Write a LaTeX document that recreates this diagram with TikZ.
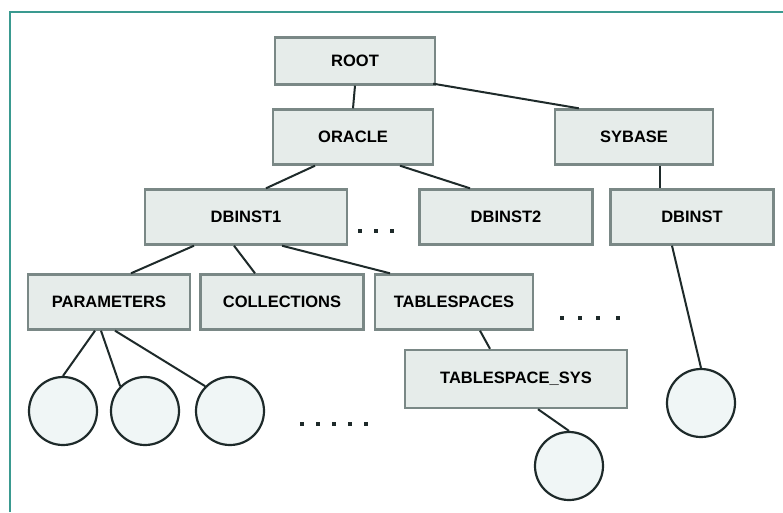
\documentclass[tikz,border=0pt]{standalone}
\usepackage{fontspec}
\setmainfont{Liberation Sans}
\usetikzlibrary{calc}
\definecolor{frame}{HTML}{3A9A90}
\definecolor{boxfill}{HTML}{E6ECEA}
\definecolor{boxline}{HTML}{7A8886}
\definecolor{wire}{HTML}{1E2A2A}
\definecolor{leaf}{HTML}{F0F6F6}
\begin{document}
\begin{tikzpicture}[x=1pt,y=-1pt,
  box/.style={draw=boxline,line width=2.4pt,fill=boxfill,rectangle,inner sep=0pt,
    font=\fontsize{16.5}{18}\selectfont\bfseries},
  leafnode/.style={draw=wire,line width=2.2pt,fill=leaf,circle,minimum size=68pt,inner sep=0pt},
  wireline/.style={draw=wire,line width=2pt},
  dotmark/.style={fill=wire,inner sep=0pt,minimum size=3.5pt,rectangle}]
\useasboundingbox (0,0) rectangle (783,512);
\fill[white] (0,0) rectangle (783,512);
% frame
\draw[frame,line width=1.5pt] (10,512) -- (10,12) -- (783,12);
% boxes
\node[box,minimum width=160pt,minimum height=47pt] (root) at (355,61) {ROOT};
\node[box,minimum width=160pt,minimum height=55pt] (oracle) at (353,137) {ORACLE};
\node[box,minimum width=158pt,minimum height=55pt] (sybase) at (634,137) {SYBASE};
\node[box,minimum width=202pt,minimum height=55pt] (inst1) at (246,217) {DBINST1};
\node[box,minimum width=173pt,minimum height=55pt] (inst2) at (506,217) {DBINST2};
\node[box,minimum width=163pt,minimum height=55pt] (inst3) at (692,217) {DBINST};
\node[box,minimum width=162pt,minimum height=55pt] (params) at (109,302) {PARAMETERS};
\node[box,minimum width=163pt,minimum height=55pt] (colls) at (282,302) {COLLECTIONS};
\node[box,minimum width=158pt,minimum height=55pt] (tbs) at (454,302) {TABLESPACES};
\node[box,minimum width=222pt,minimum height=58pt] (tbx) at (516,379) {TABLESPACE\_SYS};
% leaves
\node[leafnode] (c1) at (63,411) {};
\node[leafnode] (c2) at (145,411) {};
\node[leafnode] (c3) at (230,411) {};
\node[leafnode] (c4) at (701,403) {};
\node[leafnode] (c5) at (569,466) {};
% connectors
\draw[wireline] (root.south) -- (oracle.north);
\draw[wireline] ($(root.south east)+(-3,-2)$) -- ($(sybase.north west)+(25,0)$);
\draw[wireline] ($(oracle.south)+(-38,0)$) -- ($(inst1.north)+(20,0)$);
\draw[wireline] ($(oracle.south)+(47,0)$) -- ($(inst2.north)+(-36,0)$);
\draw[wireline] ($(sybase.south)+(26,0)$) -- ($(inst3.north)+(-32,0)$);
\draw[wireline] ($(inst1.south)+(-52,0)$) -- ($(params.north)+(22,0)$);
\draw[wireline] ($(inst1.south)+(-12,0)$) -- ($(colls.north)+(-27,0)$);
\draw[wireline] ($(inst1.south)+(36,0)$) -- ($(tbs.north)+(-64,0)$);
\draw[wireline] ($(tbs.south)+(26,0)$) -- ($(tbx.north)+(-26,0)$);
\draw[wireline] ($(params.south)+(-14,0)$) -- (c1.north);
\draw[wireline] ($(params.south)+(-8,0)$) -- (c2.north west);
\draw[wireline] ($(params.south)+(6,0)$) -- (c3.north west);
\draw[wireline] ($(inst3.south)+(-20,0)$) -- (c4.north);
\draw[wireline] ($(tbx.south)+(22,0)$) -- (c5.north);
% ellipsis marks
\foreach \x [count=\i] in {360,376,392} \node[dotmark] (da\i) at (\x,231) {};
\foreach \x [count=\i] in {562,580,598,618} \node[dotmark] (db\i) at (\x,318) {};
\foreach \x [count=\i] in {302,318,334,350,366} \node[dotmark] (dc\i) at (\x,424) {};
\end{tikzpicture}
\end{document}
